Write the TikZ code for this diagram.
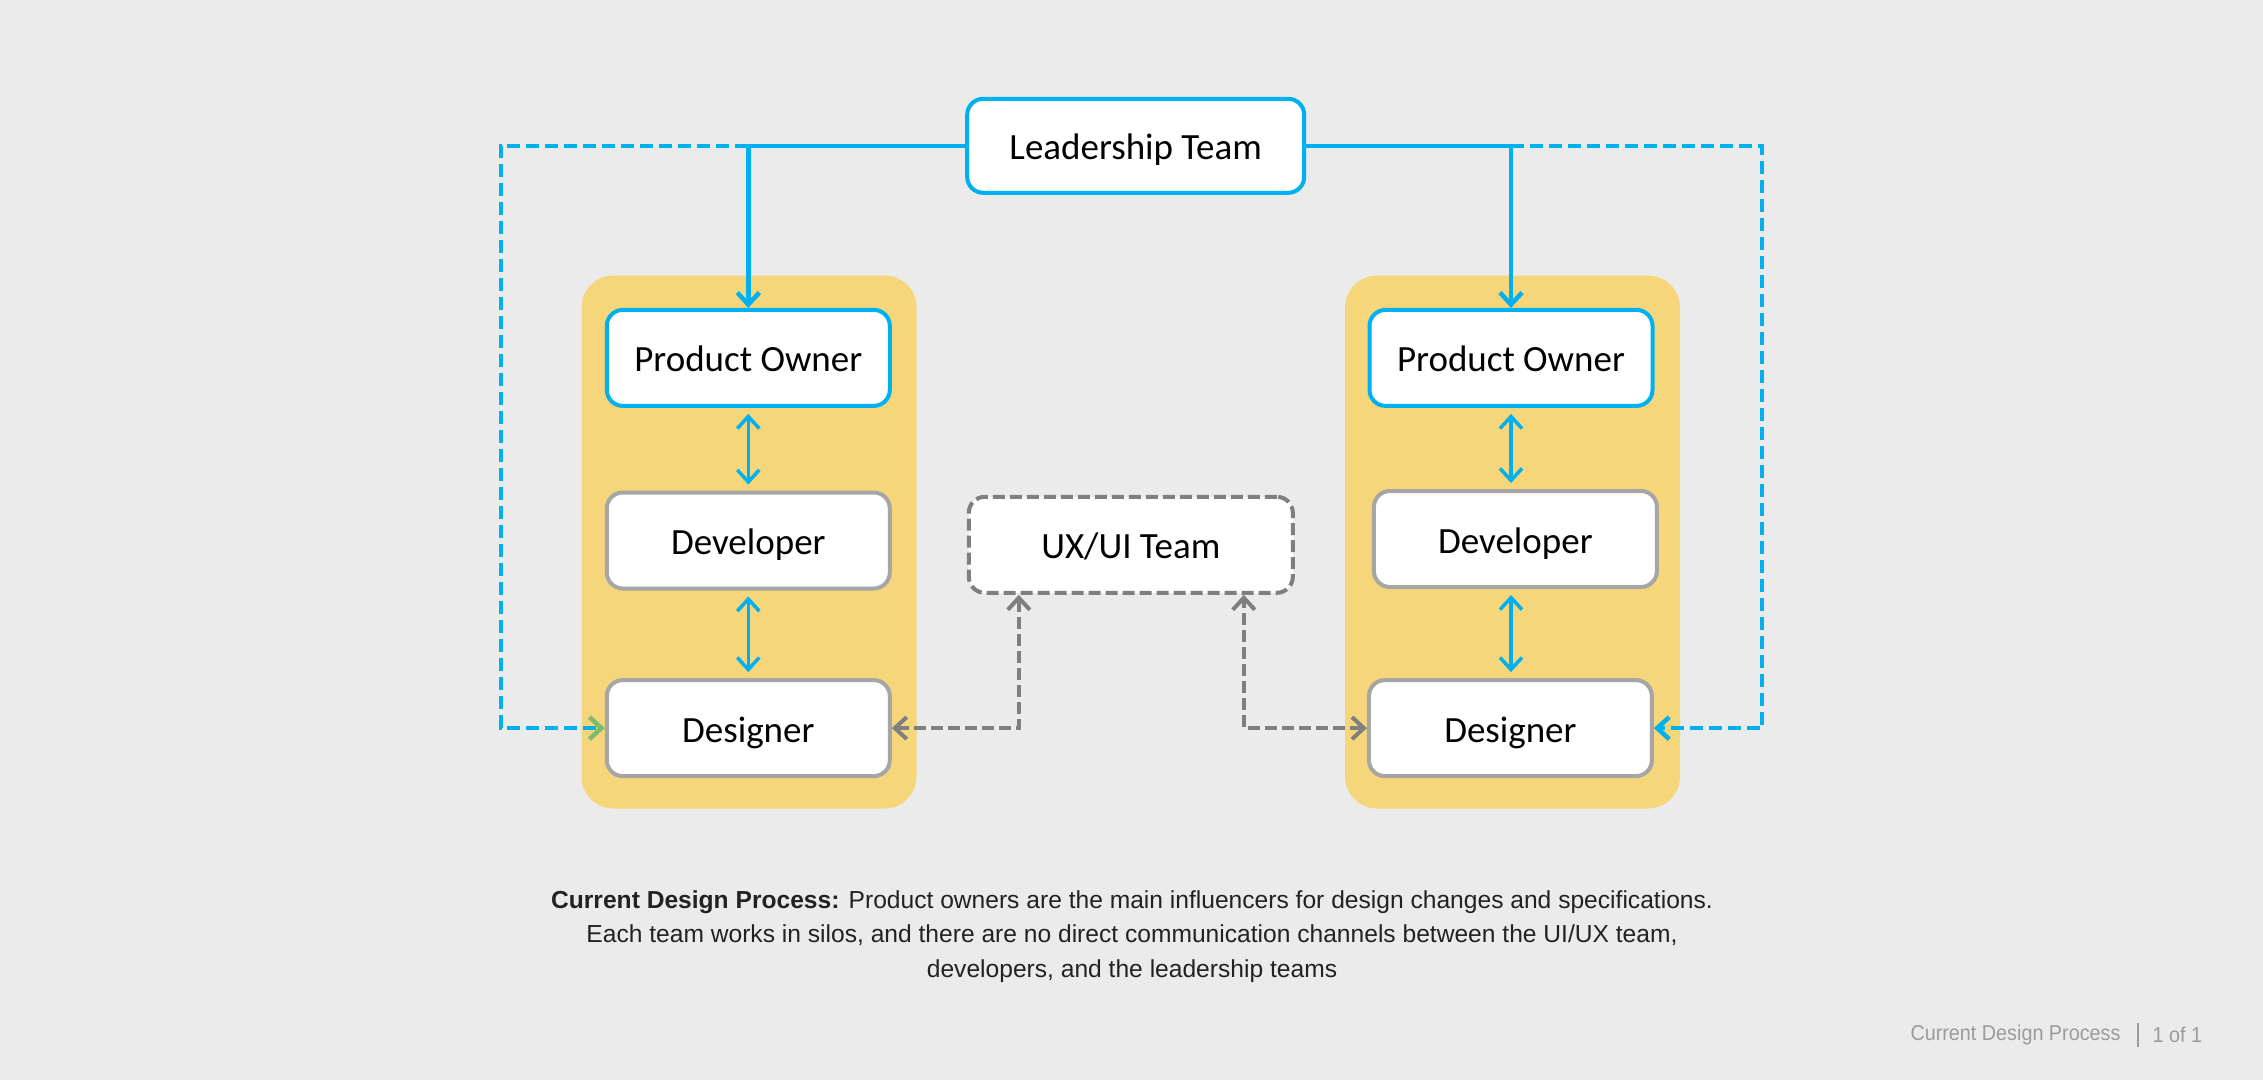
\documentclass[tikz,border=0pt]{standalone}
\usepackage{fontspec}
\setmainfont{Liberation Sans}
\newfontfamily\boxfont{Carlito}
\newfontfamily\notefont{Liberation Sans}
\newfontfamily\footfont[FakeStretch=0.92]{Liberation Sans}
\usetikzlibrary{arrows.meta}
\definecolor{pagegray}{HTML}{EBEBEB}
\definecolor{teamyellow}{HTML}{F6D67A}
\definecolor{lineblue}{HTML}{00B0F0}
\definecolor{boxgray}{HTML}{A6A6A6}
\definecolor{dashgray}{HTML}{7F7F7F}
\definecolor{tipgreen}{HTML}{7DBB6A}
\definecolor{notetext}{HTML}{222222}
\definecolor{footgray}{HTML}{9B9B9B}

\begin{document}
\begin{tikzpicture}[x=1pt, y=-1pt,
    >={Straight Barb[length=12pt,width=22pt]},
    rolebox/.style={draw=boxgray, line width=4pt, fill=white, rounded corners=16pt,
      minimum width=283pt, minimum height=96pt, inner sep=0pt,
      text height=28pt, text depth=0pt,
      font=\boxfont\fontsize{37}{44}\selectfont},
    leadbox/.style={rolebox, draw=lineblue},
    uxbox/.style={rolebox, draw=dashgray, dash pattern=on 12pt off 5pt},
    teampanel/.style={fill=teamyellow, rounded corners=32pt, minimum width=335pt, minimum height=533pt},
    blueline/.style={draw=lineblue, line width=4.5pt},
    bluedash/.style={blueline, dash pattern=on 13pt off 6pt},
    grayline/.style={draw=dashgray, line width=4pt, dash pattern=on 12pt off 5pt}]
    % background and page size
    \fill[pagegray] (0,0) rectangle (2263,1080);

    % yellow team panels
    \node[teampanel] (team1) at (749, 542) {};
    \node[teampanel] (team2) at (1512.5, 542) {};

    % boxes
    \node[leadbox, minimum width=337pt, minimum height=94pt] (lead) at (1135.7, 145.8) {Leadership Team};

    \node[leadbox] (po1)  at (748.3, 357.9) {Product Owner};
    \node[rolebox] (dev1) at (748.3, 540.5) {Developer};
    \node[rolebox] (des1) at (748.3, 728.1) {Designer};

    \node[leadbox] (po2)  at (1511, 357.9) {Product Owner};
    \node[rolebox] (dev2) at (1515.4, 539) {Developer};
    \node[rolebox] (des2) at (1510.4, 728.1) {Designer};

    \node[uxbox, minimum width=324pt] (ux) at (1130.8, 544.8) {UX/UI Team};

    % leadership links
    \coordinate (lturn) at (500.8, 145.8);
    \coordinate (rturn) at (1762.2, 145.8);
    \draw[blueline, ->] (lead.west) -| (po1.north);
    \draw[blueline, ->] (lead.east) -| (po2.north);
    \draw[bluedash, -{Straight Barb[length=12pt,width=22pt,color=tipgreen]}] (lead.west -| po1.north) -- (lturn) |- (des1.west);
    \draw[bluedash, ->] (lead.east -| po2.north) -- (rturn) |- (des2.east);

    % inside the teams
    \draw[blueline, line width=3.5pt, <->, shorten <=6pt, shorten >=6pt] (po1.south) -- (dev1.north);
    \draw[blueline, line width=3.5pt, <->, shorten <=6pt, shorten >=6pt] (dev1.south) -- (des1.north);
    \draw[blueline, line width=3.5pt, <->, shorten <=6pt, shorten >=6pt] (po2.south) -- (po2.south |- dev2.north);
    \draw[blueline, line width=3.5pt, <->, shorten <=6pt, shorten >=6pt] (po2.south |- dev2.south) -- (po2.south |- des2.north);

    % UX/UI team links
    \draw[grayline, <->] (des1.east) -| ([xshift=-112pt]ux.south);
    \draw[grayline, <->] (des2.west) -| ([xshift=113pt]ux.south);

    % note and footer
    \node[font=\notefont\fontsize{24.6}{34.6}\selectfont, text=notetext, align=center] (note) at (1132, 936.5)
      {\textbf{Current Design Process:} Product owners are the main influencers for design changes and specifications.\\
       Each team works in silos, and there are no direct communication channels between the UI/UX team,\\
       developers, and the leadership teams};
    \node[font=\footfont\fontsize{21.5}{24}\selectfont, text=footgray, anchor=east] (foottitle) at (2124, 1035) {Current Design Process};
    \node[font=\footfont\fontsize{21.5}{24}\selectfont, text=footgray, anchor=west] (pagenum) at (2149, 1035) {1 of 1};
    \draw[footgray, line width=2.5pt] (foottitle.east) ++(14,-12) -- ++(0,24);
\end{tikzpicture}
\end{document}
